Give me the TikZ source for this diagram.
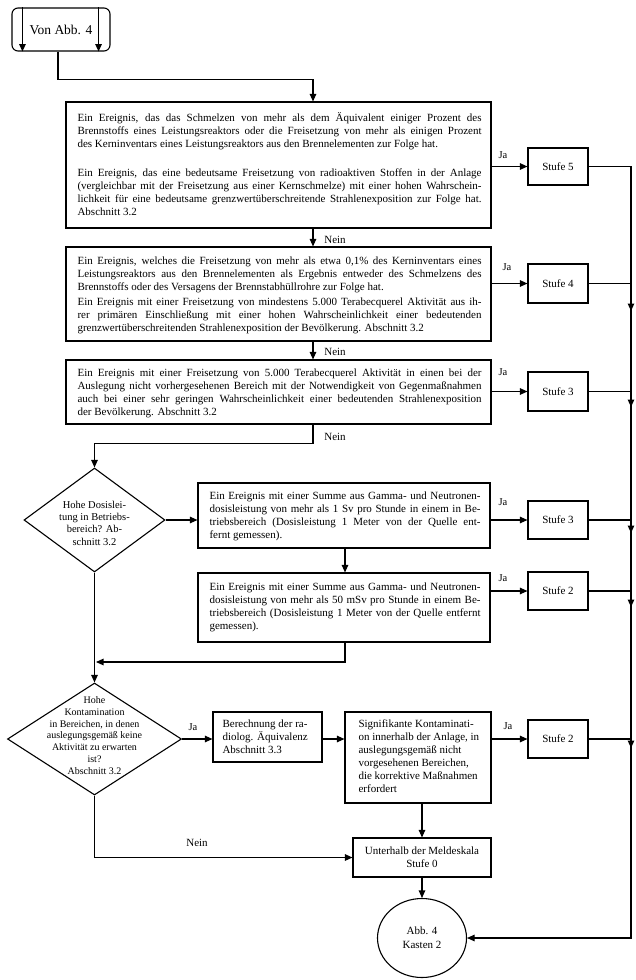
\documentclass[tikz,border=0pt]{standalone}
\usepackage{fontspec}
\setmainfont{Liberation Serif}
\usetikzlibrary{arrows.meta,shapes.geometric}
\newcommand\bodyfont{\fontsize{11}{13}\selectfont\lineskiplimit=-20pt\relax}
\newcommand\jtext[2]{\parbox[t]{#1}{\bodyfont\tolerance=10000\hyphenpenalty=10000\exhyphenpenalty=10000\relax #2}}
\newcommand\rtext[2]{\parbox[t]{#1}{\bodyfont\raggedright #2}}
\begin{document}
\begin{tikzpicture}[x=1pt,y=-1pt,line width=1.1pt,
  box/.style={draw,rectangle,inner sep=0pt},
  arr/.style={-{Triangle[length=7.5pt,width=6.5pt]}},
  txt/.style={inner sep=0pt,anchor=base west},
  nein/.style={inner sep=0pt,font=\fontsize{11}{12}\selectfont},
  ja/.style={inner sep=0pt,font=\fontsize{10.5}{12}\selectfont},
  stufe/.style={box,minimum width=60,font=\fontsize{11}{12}\selectfont}]
\useasboundingbox (0,0) rectangle (636,980);

% start
\node[box,rounded corners=6pt,minimum width=98,minimum height=43,font=\fontsize{13.5}{15}\selectfont] (start) at (61,29.5) {Von Abb. 4};
\draw[arr] ([xshift=11pt]start.north west) -- ([xshift=11pt]start.south west);
\draw[arr] ([xshift=-12pt]start.north east) -- ([xshift=-12pt]start.south east);

% main boxes
\node[box,minimum width=425,minimum height=126] (b1) at (278.5,165) {};
\node[txt] (b1t) at (77,121.7) {\jtext{404pt}{Ein Ereignis, das das Schmelzen von mehr als dem Äquivalent einiger Prozent des\linebreak Brennstoffs eines Leistungsreaktors oder die Freisetzung von mehr als einigen Prozent\linebreak des Kerninventars eines Leistungsreaktors aus den Brennelementen zur Folge hat.\par\vspace{16pt}Ein Ereignis, das eine bedeutsame Freisetzung von radioaktiven Stoffen in der Anlage\linebreak (vergleichbar mit der Freisetzung aus einer Kernschmelze) mit einer hohen Wahrschein-\linebreak lichkeit für eine bedeutsame grenzwertüberschreitende Strahlenexposition zur Folge hat.\linebreak Abschnitt 3.2}};

\node[box,minimum width=425,minimum height=94] (b2) at (278.5,294) {};
\node[txt] (b2t) at (77,264.2) {\jtext{404pt}{Ein Ereignis, welches die Freisetzung von mehr als etwa 0,1\% des Kerninventars eines\linebreak Leistungsreaktors aus den Brennelementen als Ergebnis entweder des Schmelzens des\linebreak Brennstoffs oder des Versagens der Brennstabhüllrohre zur Folge hat.\par\vspace{2pt}Ein Ereignis mit einer Freisetzung von mindestens 5.000 Terabecquerel Aktivität aus ih-\linebreak rer primären Einschließung mit einer hohen Wahrscheinlichkeit einer bedeutenden\linebreak grenzwertüberschreitenden Strahlenexposition der Bevölkerung. Abschnitt 3.2}};

\node[box,minimum width=425,minimum height=64] (b3) at (278.5,392) {};
\node[txt] (b3t) at (77,376.2) {\jtext{404pt}{Ein Ereignis mit einer Freisetzung von 5.000 Terabecquerel Aktivität in einen bei der\linebreak Auslegung nicht vorhergesehenen Bereich mit der Notwendigkeit von Gegenmaßnahmen\linebreak auch bei einer sehr geringen Wahrscheinlichkeit einer bedeutenden Strahlenexposition\linebreak der Bevölkerung. Abschnitt 3.2}};

% diamond 1 and its boxes
\node[draw,diamond,inner sep=0pt,minimum width=141,minimum height=104] (d1) at (94.5,520) {};
\node[inner sep=0pt,align=center,font=\fontsize{10.5}{12.3}\selectfont] (d1t) at (94.5,523) {Hohe Dosislei-\\tung in Betriebs-\\bereich? Ab-\\schnitt 3.2};

\node[box,minimum width=292,minimum height=65] (b4) at (344,515.5) {};
\node[txt] (b4t) at (209,499.7) {\jtext{271pt}{Ein Ereignis mit einer Summe aus Gamma- und Neutronen-\linebreak dosisleistung von mehr als 1 Sv pro Stunde in einem in Be-\linebreak triebsbereich (Dosisleistung 1 Meter von der Quelle ent-\linebreak fernt gemessen).}};

\node[box,minimum width=292,minimum height=69] (b5) at (344,607.5) {};
\node[txt] (b5t) at (209,590.2) {\jtext{271pt}{Ein Ereignis mit einer Summe aus Gamma- und Neutronen-\linebreak dosisleistung von mehr als 50 mSv pro Stunde in einem Be-\linebreak triebsbereich (Dosisleistung 1 Meter von der Quelle entfernt\linebreak gemessen).}};

% diamond 2 and its boxes
\node[draw,diamond,inner sep=0pt,minimum width=174,minimum height=112] (d2) at (94.5,739) {};
\node[inner sep=0pt,align=center,font=\fontsize{10}{11.8}\selectfont] (d2t) at (94.5,735.5) {Hohe\\Kontamination\\in Bereichen, in denen\\auslegungsgemäß keine\\Aktivität zu erwarten\\ist?\\Abschnitt 3.2};

\node[box,minimum width=109,minimum height=50] (b6) at (267.5,737) {};
\node[txt] (b6t) at (222,727.7) {\rtext{97pt}{Berechnung der ra-\\diolog. Äquivalenz\\Abschnitt 3.3}};

\node[box,minimum width=146,minimum height=91] (b7) at (418,757.5) {};
\node[txt] (b7t) at (358,727.2) {\rtext{130pt}{Signifikante Kontaminati-\\on innerhalb der Anlage, in\\auslegungsgemäß nicht\\vorgesehenen Bereichen,\\die korrektive Maßnahmen\\erfordert}};

\node[box,minimum width=138,minimum height=39,align=center,font=\fontsize{11}{13}\selectfont] (b8) at (422,857.5) {Unterhalb der Meldeskala\\Stufe 0};

\node[draw,ellipse,inner sep=0pt,minimum width=89,minimum height=79,align=center,font=\fontsize{11}{14}\selectfont] (c) at (422,938) {Abb. 4\\Kasten 2};

% Stufe boxes
\node[stufe,minimum height=37] (s5) at (558,166.5) {Stufe 5};
\node[stufe,minimum height=39] (s4) at (558,283.5) {Stufe 4};
\node[stufe,minimum height=39] (s3) at (558,391.5) {Stufe 3};
\node[stufe,minimum height=38] (s3b) at (558,520) {Stufe 3};
\node[stufe,minimum height=38] (s2b) at (558,591) {Stufe 2};
\node[stufe,minimum height=38] (s2c) at (558,739) {Stufe 2};

% labels
\node[nein] (n1) at (335,240) {Nein};
\node[nein] (n2) at (335,352) {Nein};
\node[nein] (n3) at (335,437) {Nein};
\node[nein] (n4) at (197,843) {Nein};
\node[ja] (ja1) at (503,155) {Ja};
\node[ja] (ja2) at (507,267) {Ja};
\node[ja] (ja3) at (503,372) {Ja};
\node[ja] (ja4) at (503,502) {Ja};
\node[ja] (ja5) at (503,578) {Ja};
\node[ja] (ja6) at (193,727) {Ja};
\node[ja] (ja7) at (508,726) {Ja};

% coordinates
\coordinate (colN) at (313,0);
\coordinate (colM) at (345,0);
\coordinate (colR) at (631,0);
\coordinate (j1) at (96,662);
\coordinate (t1) at (631,311);
\coordinate (t2) at (631,407);
\coordinate (t3) at (631,533);
\coordinate (t4) at (631,607);
\coordinate (t5) at (631,748);

% connectors
\draw[arr] ([xshift=-3pt]start.south) -- ++(0,28) -| (b1.north -| colN);
\draw[arr] (b1.south -| colN) -- (b2.north -| colN);
\draw[arr] (b2.south -| colN) -- (b3.north -| colN);
\draw[arr] (b3.south -| colN) -- ++(0,19) -| (d1.north);
\draw[arr] (b1.east |- s5.west) -- (s5.west);
\draw[arr] (b2.east |- s4.west) -- (s4.west);
\draw[arr] (b3.east |- s3.west) -- (s3.west);
\draw[arr] (d1.east) -- (d1.east -| b4.west);
\draw[arr] (b4.south -| colM) -- (b5.north -| colM);
\draw[arr] (b4.east |- s3b.west) -- (s3b.west);
\draw[arr] (b5.east |- s2b.west) -- (s2b.west);
\draw[arr] (b5.south -| colM) |- (j1);
\draw[arr] (d1.south) -- (d2.north);
\draw[arr] (d2.east) -- (d2.east -| b6.west);
\draw[arr] (d2.east -| b6.east) -- (d2.east -| b7.west);
\draw[arr] (b7.east |- s2c.west) -- (s2c.west);
\draw[arr] (b8.north |- b7.south) -- (b8.north);
\draw[arr] (d2.south) |- (b8.west);
\draw[arr] (b8.south) -- (c.north);
\draw[arr] (s5.east) -| (t1);
\draw[arr] (s4.east) -| (t2);
\draw[arr] (s3.east) -| (t3);
\draw[arr] (s3b.east) -| (t4);
\draw[arr] (s2b.east) -| (t5);
\draw[arr] (s2c.east) -| (c.east -| colR) -- (c.east);
\end{tikzpicture}
\end{document}
